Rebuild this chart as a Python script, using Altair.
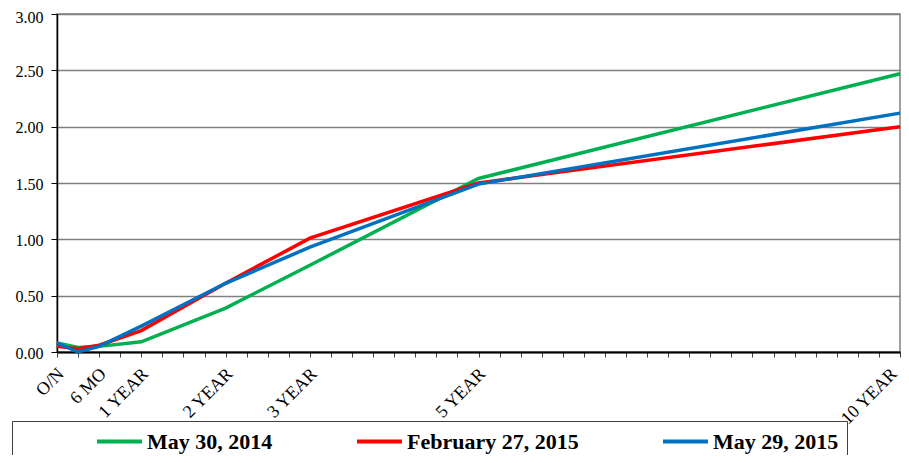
import altair as alt
import pandas as pd

# Tenors (months to maturity) and yields
tenor_months = [0, 3, 6, 12, 24, 36, 60, 120]
series_names = ["May 30, 2014", "February 27, 2015", "May 29, 2015"]
may_2014 = [0.08, 0.04, 0.05, 0.09, 0.39, 0.77, 1.54, 2.47]
feb_2015 = [0.05, 0.03, 0.06, 0.19, 0.61, 1.01, 1.50, 2.00]
may_2015 = [0.08, 0.00, 0.05, 0.23, 0.61, 0.93, 1.49, 2.12]

# Axis labels shown on the category axis
label_months = [0, 6, 12, 24, 36, 60, 120]
label_texts = ["O/N", "6 MO", "1 YEAR", "2 YEAR", "3 YEAR", "5 YEAR", "10 YEAR"]

colors = ["#00B050", "#FF0000", "#0070C0"]

rows = []
for name, vals in zip(series_names, [may_2014, feb_2015, may_2015]):
    for m, v in zip(tenor_months, vals):
        rows.append({"months": m, "yield": v, "series": name})
df = pd.DataFrame(rows)

label_map = "{" + ",".join(f"'{m}':'{t}'" for m, t in zip(label_months, label_texts)) + "}"
label_expr = f"({label_map})[datum.value + ''] || ''"

chart = alt.Chart(df).mark_line(strokeWidth=3.5, strokeCap="butt", strokeJoin="miter").encode(
    x=alt.X(
        "months:Q",
        scale=alt.Scale(domain=[0, 120], nice=False, zero=True),
        axis=alt.Axis(
            title=None,
            values=list(range(0, 121, 3)),
            labelExpr=label_expr,
            labelAngle=-45,
            labelAlign="right",
            labelBaseline="middle",
            labelFont="Liberation Serif",
            labelFontSize=18,
            labelColor="#000000",
            labelPadding=14,
            labelOffset={"condition": {"test": "datum.value >= 120", "value": -6}, "value": 4},
            labelOverlap=False,
            labelFlush=False,
            labelBound=False,
            tickSize=5,
            tickColor="#404040",
            tickWidth=1,
            domainColor="#000000",
            domainWidth=2,
            grid=False,
        ),
    ),
    y=alt.Y(
        "yield:Q",
        scale=alt.Scale(domain=[0, 3], nice=False),
        axis=alt.Axis(
            title=None,
            values=[0, 0.5, 1.0, 1.5, 2.0, 2.5, 3.0],
            format=".2f",
            labelFont="Liberation Serif",
            labelFontSize=16,
            labelColor="#000000",
            labelPadding=8,
            labelOffset={"condition": {"test": "datum.value >= 3", "value": 3}, "value": 1},
            tickSize=6,
            tickColor="#000000",
            tickWidth=1,
            domainColor="#000000",
            domainWidth=1.5,
            grid=True,
            gridColor="#808080",
            gridWidth=1.5,
        ),
    ),
    color=alt.Color(
        "series:N",
        scale=alt.Scale(domain=series_names, range=colors),
        sort=series_names,
        legend=alt.Legend(
            title="\u00a0",
            titleOrient="left",
            titlePadding=75,
            titleFontSize=10,
            orient="none",
            legendX=-45,
            legendY=407,
            direction="horizontal",
            columns=3,
            columnPadding=82,
            symbolType="stroke",
            symbolSize=2025,
            symbolStrokeWidth=4,
            clipHeight=25,
            labelFont="Liberation Serif",
            labelFontWeight="bold",
            labelFontSize=22,
            labelColor="#000000",
            labelOffset=3,
            labelLimit=400,
            strokeColor="#404040",
            padding=8,
        ),
    ),
    order=alt.Order("months:Q"),
).properties(
    width=843,
    height=338,
    autosize=alt.AutoSizeParams(type="none"),
    padding={"left": 49, "top": 6, "right": 1, "bottom": 103},
).configure_view(
    stroke="#808080",
    strokeWidth=1.5,
)

chart.save("out.html", embed_options={"renderer": "svg", "actions": False})
